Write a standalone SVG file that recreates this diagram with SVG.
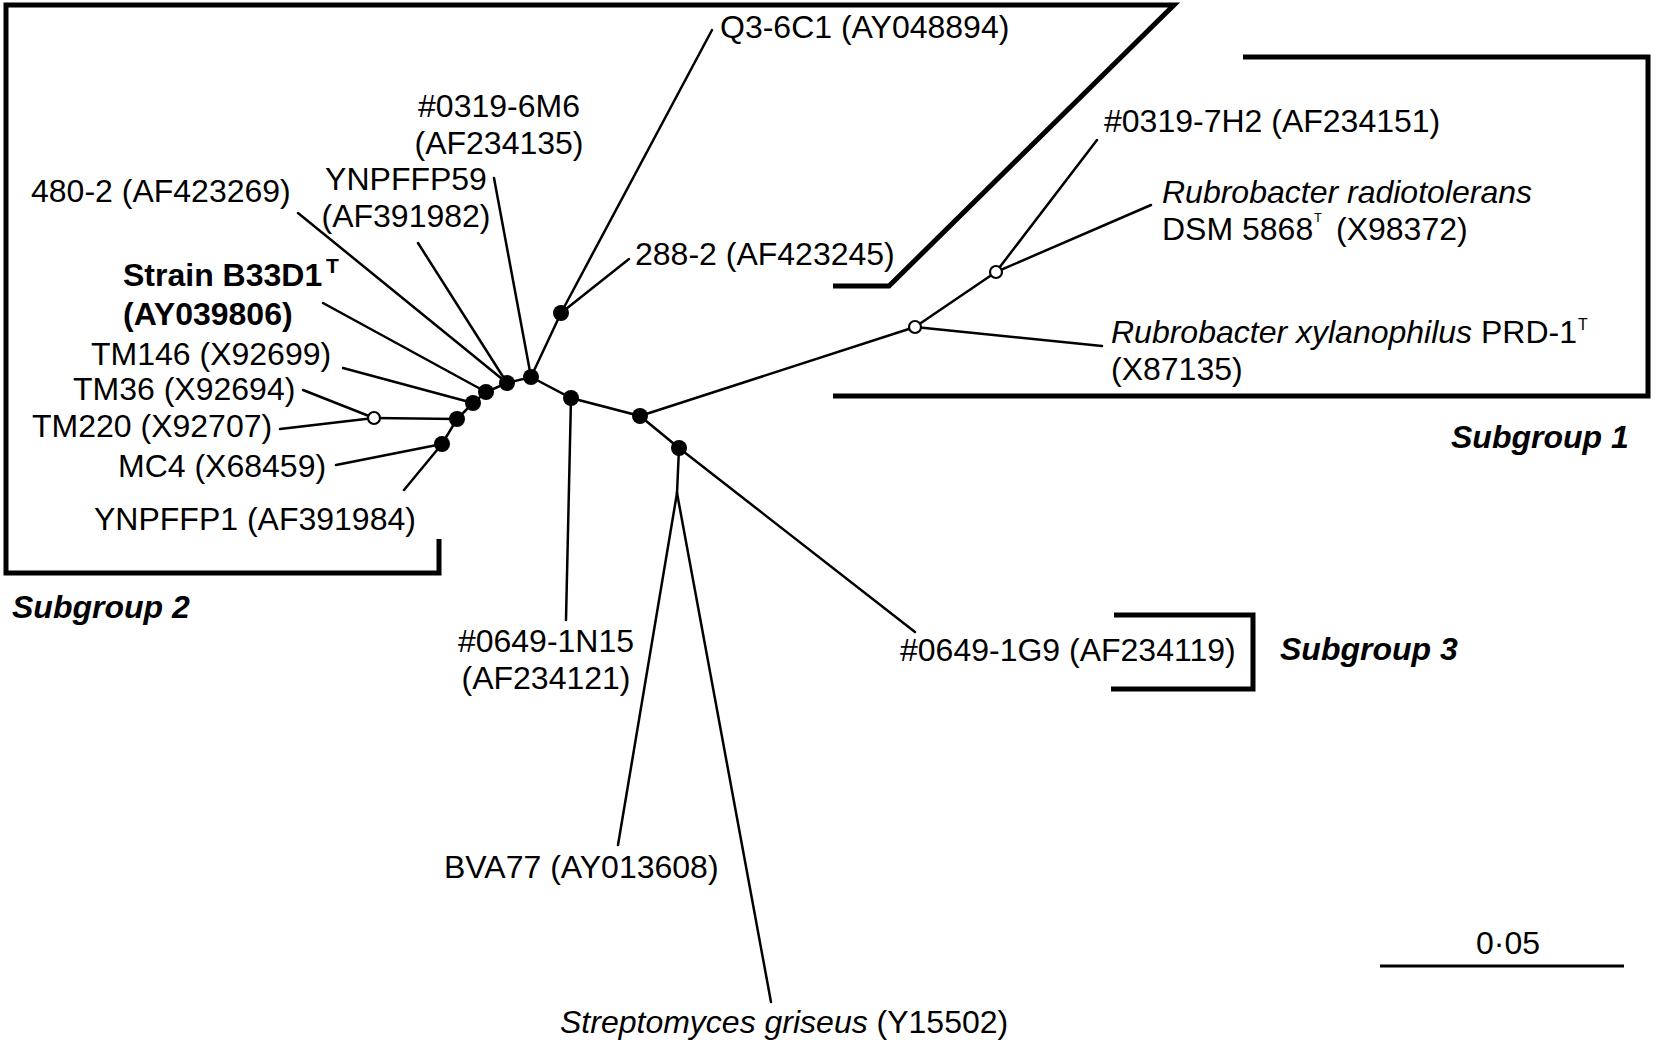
<svg xmlns="http://www.w3.org/2000/svg" width="1656" height="1047" viewBox="0 0 1656 1047">
<style>
text { font-family: "Liberation Sans", Arial, sans-serif; font-size: 32px; fill: #000; }
.b { font-weight: bold; }
.i { font-style: italic; }
.bi { font-weight: bold; font-style: italic; }
.br { fill: none; stroke: #000; stroke-width: 5; stroke-linejoin: miter; }
.e { fill: none; stroke: #000; stroke-width: 2.5; stroke-linecap: round; }
.n { fill: #000; }
.o { fill: #fff; stroke: #000; stroke-width: 2.2; }
</style>
<rect width="1656" height="1047" fill="#fff"/>

<g id="brackets">
  <path class="br" d="M833,286 L889,286 L1174,5 L6,5 L6,573 L439,573 L439,539"/>
  <path class="br" d="M1243,57 L1648,57 L1648,396 L833,396"/>
  <path class="br" stroke-width="4" d="M1114,615 L1253,615 L1253,689 L1111,689"/>
</g>

<g id="connectors">
  <path class="e" d="M442,444 L457,419 L473,403 L486,392 L507,383 L531,377 L571,398 L640,416 L679,448"/>
  <path class="e" d="M442,444 L404,490"/>
  <path class="e" d="M442,444 L336,465"/>
  <path class="e" d="M457,419 L374,418"/>
  <path class="e" d="M374,418 L303,390"/>
  <path class="e" d="M374,418 L280,429"/>
  <path class="e" d="M473,403 L343,368"/>
  <path class="e" d="M486,392 L323,303"/>
  <path class="e" d="M507,383 L298,213"/>
  <path class="e" d="M507,383 L418,243"/>
  <path class="e" d="M531,377 L494,178"/>
  <path class="e" d="M531,377 L561,313"/>
  <path class="e" d="M561,313 L712,30"/>
  <path class="e" d="M561,313 L629,259"/>
  <path class="e" d="M571,398 L566,620"/>
  <path class="e" d="M640,416 L915,327"/>
  <path class="e" d="M915,327 L1102,346"/>
  <path class="e" d="M915,327 L996,272"/>
  <path class="e" d="M996,272 L1097,140"/>
  <path class="e" d="M996,272 L1151,205"/>
  <path class="e" d="M679,448 L915,632"/>
  <path class="e" d="M679,448 L677,493"/>
  <path class="e" d="M677,493 L618,845"/>
  <path class="e" d="M677,493 L771,1002"/>
</g>

<g id="internal-nodes">
  <circle class="n" cx="442" cy="444" r="8"/>
  <circle class="n" cx="457" cy="419" r="8"/>
  <circle class="n" cx="473" cy="403" r="8"/>
  <circle class="n" cx="486" cy="392" r="8"/>
  <circle class="n" cx="507" cy="383" r="8"/>
  <circle class="n" cx="531" cy="377" r="8"/>
  <circle class="n" cx="571" cy="398" r="8"/>
  <circle class="n" cx="640" cy="416" r="8"/>
  <circle class="n" cx="679" cy="448" r="8"/>
  <circle class="n" cx="561" cy="313" r="8"/>
  <circle class="o" cx="374" cy="418" r="6"/>
  <circle class="o" cx="915" cy="327" r="6"/>
  <circle class="o" cx="996" cy="272" r="6"/>
</g>

<g id="leaf-Q3-6C1"><text x="720" y="38">Q3-6C1 (AY048894)</text></g>
<g id="leaf-0319-6M6"><text x="499" y="117" text-anchor="middle">#0319-6M6</text><text x="499" y="154" text-anchor="middle">(AF234135)</text></g>
<g id="leaf-YNPFFP59"><text x="406" y="190" text-anchor="middle">YNPFFP59</text><text x="406" y="227" text-anchor="middle">(AF391982)</text></g>
<g id="leaf-480-2"><text x="31" y="202">480-2 (AF423269)</text></g>
<g id="leaf-B33D1"><text class="b" x="123" y="286">Strain B33D1<tspan x="326" y="273" font-size="21">T</tspan></text><text class="b" x="123" y="325">(AY039806)</text></g>
<g id="leaf-TM146"><text x="91" y="365">TM146 (X92699)</text></g>
<g id="leaf-TM36"><text x="73" y="400">TM36 (X92694)</text></g>
<g id="leaf-TM220"><text x="32" y="437">TM220 (X92707)</text></g>
<g id="leaf-MC4"><text x="118" y="477">MC4 (X68459)</text></g>
<g id="leaf-YNPFFP1"><text x="94" y="530">YNPFFP1 (AF391984)</text></g>
<g id="leaf-288-2"><text x="635" y="265">288-2 (AF423245)</text></g>
<g id="leaf-0319-7H2"><text x="1104" y="132">#0319-7H2 (AF234151)</text></g>
<g id="leaf-radiotolerans"><text class="i" x="1162" y="203">Rubrobacter radiotolerans</text><text x="1162" y="240">DSM 5868<tspan x="1314" y="222" font-size="13">T</tspan><tspan x="1336" y="240">(X98372)</tspan></text></g>
<g id="leaf-xylanophilus"><text x="1111" y="343"><tspan class="i">Rubrobacter xylanophilus</tspan> PRD-1<tspan x="1578" y="330" font-size="16">T</tspan></text><text x="1111" y="380">(X87135)</text></g>
<g id="leaf-0649-1N15"><text x="546" y="652" text-anchor="middle">#0649-1N15</text><text x="546" y="689" text-anchor="middle">(AF234121)</text></g>
<g id="leaf-0649-1G9"><text x="900" y="661">#0649-1G9 (AF234119)</text></g>
<g id="leaf-BVA77"><text x="444" y="878">BVA77 (AY013608)</text></g>
<g id="leaf-Streptomyces"><text x="560" y="1033"><tspan class="i">Streptomyces griseus</tspan> (Y15502)</text></g>

<g id="subgroup-labels">
  <text class="bi" x="1451" y="448">Subgroup 1</text>
  <text class="bi" x="12" y="618">Subgroup 2</text>
  <text class="bi" x="1280" y="660">Subgroup 3</text>
</g>

<g id="scale-bar">
  <path d="M1380,966 L1624,966" stroke="#000" stroke-width="3"/>
  <text x="1508" y="954" text-anchor="middle">0·05</text>
</g>
</svg>
